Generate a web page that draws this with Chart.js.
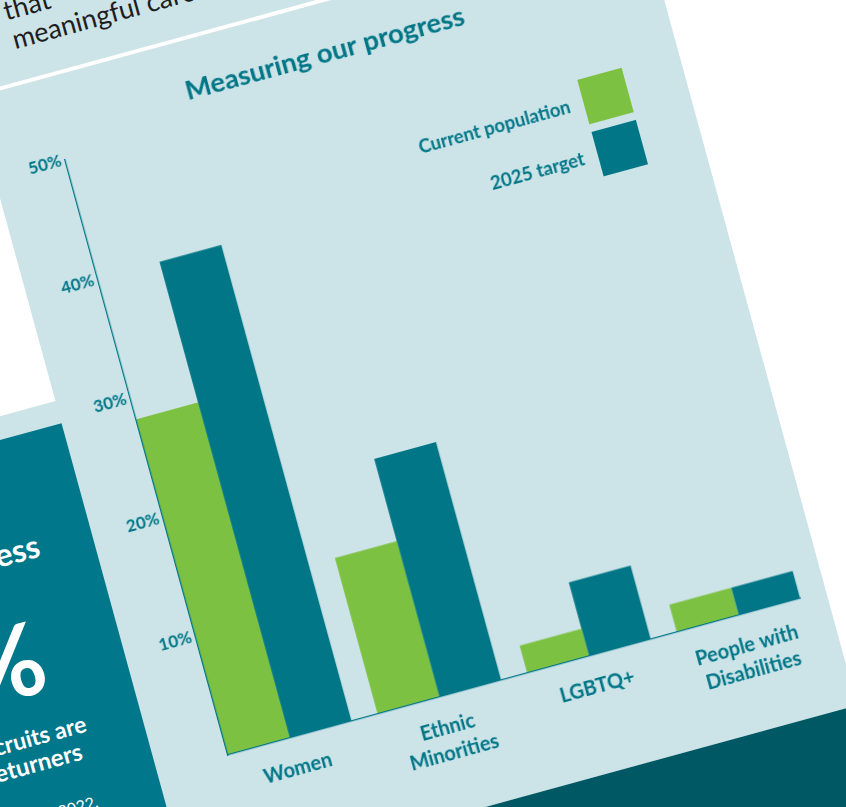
<!DOCTYPE html>
<html><head><meta charset="utf-8">
<script src="https://cdn.jsdelivr.net/npm/chart.js@4"></script>
<style>
html,body{margin:0;padding:0;width:846px;height:807px;overflow:hidden;background:#fff;font-family:Lato,sans-serif;}
#sheet{position:absolute;left:228px;top:755px;width:0;height:0;transform:rotate(-15.3deg);transform-origin:0 0;}
#sheet > div{position:absolute;}
.panel{left:-1500px;top:-1500px;width:2120px;height:1618px;background:#cce3e8;}
.band{left:-1500px;top:118px;width:2120px;height:900px;background:#005864;}
.whitebox{left:-1000px;top:-660px;width:927px;height:273px;background:#fff;}
.tealbox{left:-1000px;top:-364px;width:927px;height:482px;background:#00778a;}
.rule{left:-1000px;top:-705px;width:1700px;height:3.5px;background:#fff;}
.t{white-space:nowrap;line-height:1.2;}
#chartwrap{left:-38px;top:-682px;width:640px;height:762px;}
#legend{right:-561px;top:-559px;}
.lrow{display:flex;align-items:center;justify-content:flex-end;height:46px;margin-bottom:8px;}
.lrow span{font:700 18.5px Lato,sans-serif;color:#007686;margin-right:14px;white-space:nowrap;}
.lrow i{display:block;width:46px;height:46px;}
</style>
</head>
<body>
<div id="sheet">
  <div class="panel"></div>
  <div class="band"></div>
  <div class="whitebox"></div>
  <div class="tealbox"></div>
  <div class="rule"></div>
  <div class="t" style="left:-20px;top:-793.6px;font:400 27px Lato,sans-serif;color:#1e1e1e;">that</div>
  <div class="t" style="left:-19px;top:-763.6px;font:400 27px Lato,sans-serif;color:#1e1e1e;">meaningful careers</div>
  <div class="t" style="right:127px;top:-272.6px;font:700 32px Lato,sans-serif;color:#fff;">Progress</div>
  <div class="t" style="right:152px;top:-208.7px;font:700 100px Lato,sans-serif;color:#fff;">%</div>
  <div class="t" style="right:129px;top:-82.7px;font:700 23px Lato,sans-serif;color:#fff;">new recruits are</div>
  <div class="t" style="right:140px;top:-57.7px;font:700 24px Lato,sans-serif;color:#fff;">returners</div>
  <div class="t" style="right:138px;top:0px;font:400 16px Lato,sans-serif;color:#fff;">in 2022,</div>
  <div id="chartwrap"><canvas id="c" width="640" height="762"></canvas></div>
  <div id="legend"></div>
</div>
<script>
const categories = ['Women', ['Ethnic', 'Minorities'], 'LGBTQ+', ['People with', 'Disabilities']];
const currentPopulation = [28.2, 13.1, 2.3, 2.3];
const target2025 = [40, 20, 6.2, 2.3];
const seriesNames = ['Current population', '2025 target'];
const seriesColors = ['#7dc142', '#007686'];
const yTickValues = [10, 20, 30, 40, 50];

const teal = '#007686';
const legendEl = document.getElementById('legend');
seriesNames.forEach((name, i) => {
  const row = document.createElement('div');
  row.className = 'lrow';
  const s = document.createElement('span'); s.textContent = name;
  const b = document.createElement('i'); b.style.background = seriesColors[i];
  row.appendChild(s); row.appendChild(b);
  legendEl.appendChild(row);
});

const toPoints = arr => arr.map((v, i) => ({x: i, y: v}));
new Chart(document.getElementById('c'), {
  type: 'bar',
  data: {
    datasets: [
      {label: seriesNames[0], data: toPoints(currentPopulation), backgroundColor: seriesColors[0]},
      {label: seriesNames[1], data: toPoints(target2025), backgroundColor: seriesColors[1]}
    ]
  },
  options: {
    responsive: false, animation: false, devicePixelRatio: 1,
    layout: {padding: {left: 0, right: 7, top: 0, bottom: 0}},
    datasets: {bar: {categoryPercentage: 0.826, barPercentage: 1, borderWidth: 0}},
    plugins: {
      legend: {display: false},
      tooltip: {enabled: false},
      title: {display: true, text: 'Measuring our progress', color: teal,
        font: {family: 'Lato', weight: 'bold', size: 27.5, lineHeight: 1.2},
        padding: {top: 15, bottom: 16.8}}
    },
    scales: {
      x: {
        type: 'linear', min: -0.4132, max: 3.4132, offset: false,
        grid: {display: false, drawTicks: false},
        border: {display: true, color: teal, width: 1.3, z: 1},
        afterBuildTicks: s => { s.ticks = categories.map((c, i) => ({value: i})); },
        afterFit: s => { s.height = 80; },
        ticks: {autoSkip: false, maxRotation: 0, minRotation: 0, padding: 19, color: teal,
          font: {family: 'Lato', weight: 'bold', size: 20, lineHeight: 1.3},
          callback: v => categories[v]}
      },
      y: {
        min: 0, max: 50,
        grid: {display: false, drawTicks: false},
        border: {display: true, color: teal, width: 1.3, z: 1},
        afterBuildTicks: s => { s.ticks = yTickValues.map(v => ({value: v})); },
        afterFit: s => { s.width = 38; },
        ticks: {padding: 4, color: teal,
          font: {family: 'Lato', weight: 'bold', size: 17},
          callback: v => v + '%'}
      }
    }
  }
});
</script>
</body></html>
